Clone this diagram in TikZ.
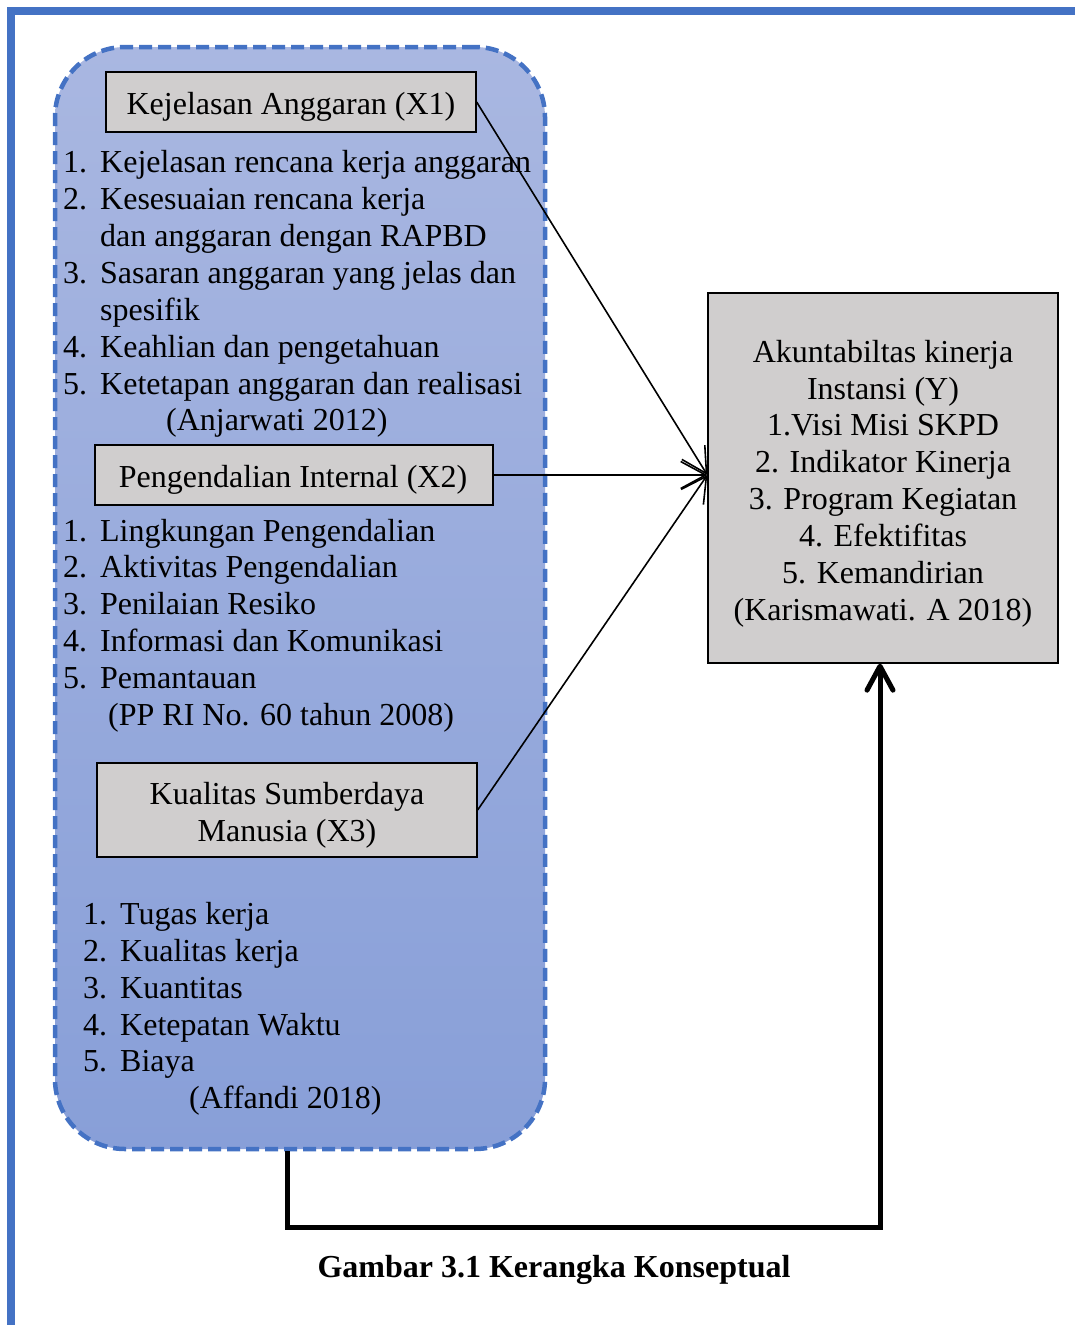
\documentclass[tikz,border=0pt]{standalone}
\usepackage{fontspec}
\setmainfont{Liberation Serif}
\usetikzlibrary{arrows.meta}
\definecolor{frameblue}{HTML}{4472C4}
\definecolor{boxgray}{HTML}{D0CECE}
\definecolor{topblue}{HTML}{A9B7E1}
\definecolor{botblue}{HTML}{889FD8}
\begin{document}
\begin{tikzpicture}[x=1pt,y=-1pt,font=\fontsize{32}{37}\selectfont,
  gbox/.style={draw=black,line width=1.3pt,fill=boxgray,inner sep=0pt},
  item/.style={anchor=base west,inner sep=0pt},
  ctext/.style={anchor=base,inner sep=0pt},
  thinarrow/.style={line width=1.6pt,-{Straight Barb[length=25pt,width=27pt,line width=1.6pt]}},
  thickarrow/.style={line width=5pt,-{Straight Barb[length=24pt,width=26pt,line width=5pt,round]}},
  container/.style={draw=frameblue,line width=4.5pt,dash pattern=on 13pt off 6pt,
    rounded corners=70pt,top color=topblue,bottom color=botblue,inner sep=0pt}]
\newcommand{\nm}[1]{\makebox[37pt][l]{#1}}
\useasboundingbox (0,0) rectangle (1075,1325);
\fill[white] (0,0) rectangle (1075,1325);
\draw[frameblue,line width=8pt] (11,1325) -- (11,11) -- (1075,11);

\node[container,minimum width=490pt,minimum height=1102pt] (grp) at (300,598) {};

\node[gbox,minimum width=370pt,minimum height=60pt] (x1) at (291,102) {};
\node[ctext] (x1t) at (291,114) {Kejelasan Anggaran (X1)};
\node[gbox,minimum width=398pt,minimum height=60pt] (x2) at (294,475) {};
\node[ctext] (x2t) at (293,487) {Pengendalian Internal (X2)};
\node[gbox,minimum width=380pt,minimum height=94pt] (x3) at (287,810) {};
\node[ctext] (x3t1) at (287,804) {Kualitas Sumberdaya};
\node[ctext] (x3t2) at (287,841) {Manusia (X3)};
\node[gbox,minimum width=350pt,minimum height=370pt] (y) at (883,478) {};
\node[ctext] (y1) at (883,362) {Akuntabiltas kinerja};
\node[ctext] (y2) at (883,399) {Instansi (Y)};
\node[ctext] (y3) at (883,435) {1.Visi Misi SKPD};
\node[ctext] (y4) at (883,472) {2. Indikator Kinerja};
\node[ctext] (y5) at (883,509) {3. Program Kegiatan};
\node[ctext] (y6) at (883,546) {4. Efektifitas};
\node[ctext] (y7) at (883,583) {5. Kemandirian};
\node[ctext] (y8) at (883,620) {(Karismawati. A 2018)};

% X1 list
\node[item] (a1) at (63,172) {\nm{1.}Kejelasan rencana kerja anggaran};
\node[item] (a2) at (63,209) {\nm{2.}Kesesuaian rencana kerja};
\node[item] (a2b) at (100,246) {dan anggaran dengan RAPBD};
\node[item] (a3) at (63,283) {\nm{3.}Sasaran anggaran yang jelas dan};
\node[item] (a3b) at (100,320) {spesifik};
\node[item] (a4) at (63,357) {\nm{4.}Keahlian dan pengetahuan};
\node[item] (a5) at (63,394) {\nm{5.}Ketetapan anggaran dan realisasi};
\node[item] (a6) at (166,430) {(Anjarwati 2012)};

% X2 list
\node[item] (b1) at (63,541) {\nm{1.}Lingkungan Pengendalian};
\node[item] (b2) at (63,577) {\nm{2.}Aktivitas Pengendalian};
\node[item] (b3) at (63,614) {\nm{3.}Penilaian Resiko};
\node[item] (b4) at (63,651) {\nm{4.}Informasi dan Komunikasi};
\node[item] (b5) at (63,688) {\nm{5.}Pemantauan};
\node[item] (b6) at (108,725) {(PP RI No. 60 tahun 2008)};

% X3 list
\node[item] (c1) at (83,924) {\nm{1.}Tugas kerja};
\node[item] (c2) at (83,961) {\nm{2.}Kualitas kerja};
\node[item] (c3) at (83,998) {\nm{3.}Kuantitas};
\node[item] (c4) at (83,1035) {\nm{4.}Ketepatan Waktu};
\node[item] (c5) at (83,1071) {\nm{5.}Biaya};
\node[item] (c6) at (189,1108) {(Affandi 2018)};

% connectors
\coordinate (yin) at ([yshift=3pt]y.west);
\draw[thinarrow] (x1.east) -- (yin);
\draw[thinarrow] (x2.east) -- (yin);
\draw[thinarrow] (x3.east) -- (yin);
\draw[thickarrow] (x3 |- grp.south) -- ++(0,76) -| ([xshift=-3pt]y.south);

\node[font=\fontsize{32}{37}\selectfont\bfseries,anchor=base] (cap) at (554,1277) {Gambar 3.1 Kerangka Konseptual};
\end{tikzpicture}
\end{document}
